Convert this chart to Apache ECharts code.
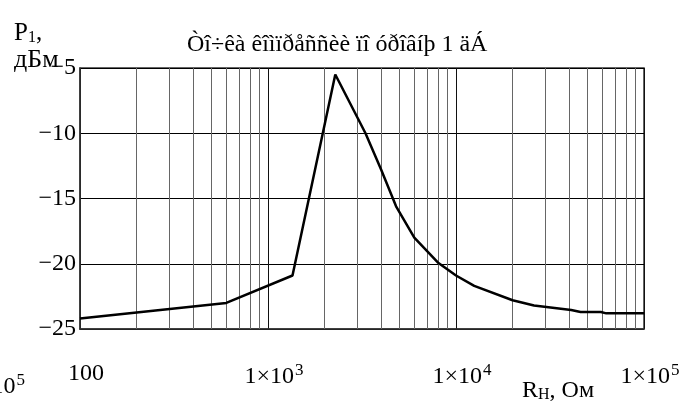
<!DOCTYPE html>
<html>
<head>
<meta charset="utf-8">
<script src="https://cdn.jsdelivr.net/npm/echarts@6/dist/echarts.min.js"></script>
<style>
  html, body { margin: 0; padding: 0; background: #fff; }
  #chart { width: 696px; height: 408px; }
</style>
</head>
<body>
<div id="chart"></div>
<script>
// load resistance, Ohm
const rOhm = [100, 600, 1350, 2280, 3300, 4000, 4800, 6000, 8000, 10000, 12500, 20000, 26000, 41000, 46000, 59000, 63000, 100000]
// output power P1, dBm
const p1dBm = [-24.2, -23.0, -20.9, -5.5, -10.0, -12.8, -15.6, -18.0, -19.9, -20.9, -21.7, -22.8, -23.2, -23.55, -23.7, -23.7, -23.8, -23.8]
// log grid lines between decades
const minorGridR = [200, 300, 400, 500, 600, 700, 800, 900,
  2000, 3000, 4000, 5000, 6000, 7000, 8000, 9000,
  20000, 30000, 40000, 50000, 60000, 70000, 80000, 90000]
const titleText = 'Òî÷êà êîìïðåññèè ïî óðîâíþ 1 äÁ'

const serif = '"Liberation Serif", "DejaVu Serif", serif'
const chart = echarts.init(document.getElementById('chart'))

let option = {
  animation: false,
  backgroundColor: '#fff',
  title: {
    text: titleText,
    left: 187,
    top: 33,
    padding: 0,
    textStyle: {fontFamily: serif, fontSize: 24, fontWeight: 'normal', color: '#000'}
  },
  grid: {
    left: 80, top: 68, width: 564, height: 261,
    show: true, borderColor: '#333', borderWidth: 1.5, backgroundColor: 'transparent'
  },
  xAxis: {
    type: 'log',
    logBase: 10,
    min: 100,
    max: 100000,
    axisLine: {show: true, lineStyle: {color: '#333', width: 1.5}},
    axisTick: {show: false},
    splitLine: {show: true, lineStyle: {color: '#111', width: 1}},
    axisLabel: {
      margin: 33,
      padding: [0, 0, 0, 12],
      color: '#000',
      fontFamily: serif,
      fontSize: 24,
      formatter: function (v) {
        let p = Math.round(Math.log10(v))
        if (p === 2) return '{m|100}'
        return '{m|1×10}{s|' + p + '}'
      },
      rich: {
        m: {fontFamily: serif, fontSize: 24, color: '#000', verticalAlign: 'bottom'},
        s: {fontFamily: serif, fontSize: 17, color: '#000', verticalAlign: 'top', padding: [0, 0, 10, 1]}
      }
    }
  },
  yAxis: {
    type: 'value',
    min: -25,
    max: -5,
    interval: 5,
    axisLine: {show: true, lineStyle: {color: '#333', width: 1.5}},
    axisTick: {show: false},
    splitLine: {show: true, lineStyle: {color: '#000', width: 1}},
    axisLabel: {
      margin: 4,
      padding: [6, 0, 0, 0],
      color: '#000',
      fontFamily: serif,
      fontSize: 24,
      formatter: function (v) {
        return '\u2212' + Math.abs(v)
      }
    }
  },
  graphic: [
    {
      type: 'text', left: 14, top: 21,
      style: {
        text: '{a|P}{b|1}{a|,}',
        rich: {
          a: {fontFamily: serif, fontSize: 25, fill: '#000', verticalAlign: 'bottom'},
          b: {fontFamily: serif, fontSize: 16, fill: '#000', verticalAlign: 'bottom'}
        }
      }
    },
    {
      type: 'text', left: 14, top: 47,
      style: {text: 'дБм', fontFamily: serif, fontSize: 26, fill: '#000'}
    },
    {
      type: 'text', left: 522, top: 379,
      style: {
        text: '{a|R}{b|H}{a|, Ом}',
        rich: {
          a: {fontFamily: serif, fontSize: 24, fill: '#000', verticalAlign: 'bottom'},
          b: {fontFamily: serif, fontSize: 16, fill: '#000', verticalAlign: 'bottom'}
        }
      }
    },
    {
      type: 'text', right: 671, top: 372,
      style: {
        text: '{m|1×10}{s|5}',
        align: 'right',
        rich: {
          m: {fontFamily: serif, fontSize: 24, fill: '#000', verticalAlign: 'bottom'},
          s: {fontFamily: serif, fontSize: 17, fill: '#000', verticalAlign: 'top', padding: [0, 0, 10, 1]}
        }
      }
    }
  ],
  series: [
    {
      type: 'line',
      data: [],
      z: 1,
      silent: true,
      markLine: {
        silent: true,
        symbol: 'none',
        animation: false,
        label: {show: false},
        lineStyle: {color: '#666', width: 1, type: 'solid'},
        data: minorGridR.map(v => ({xAxis: v}))
      }
    },
    {
      type: 'line',
      z: 5,
      data: rOhm.map((r, i) => [r, p1dBm[i]]),
      showSymbol: false,
      symbol: 'none',
      lineStyle: {color: '#000', width: 2.5},
      smooth: false
    }
  ]
}
option && chart.setOption(option)
</script>
</body>
</html>
